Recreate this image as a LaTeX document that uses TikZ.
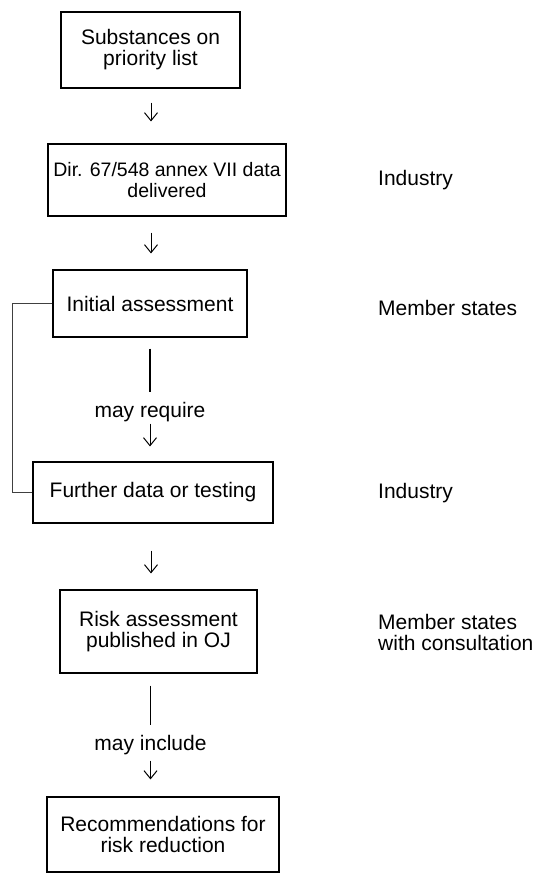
\documentclass[tikz,border=0pt]{standalone}
\usepackage{fontspec}
\setmainfont{Liberation Sans}
\usetikzlibrary{arrows.meta,positioning}

\begin{document}
\begin{tikzpicture}[x=1pt,y=-1pt,>={Straight Barb[length=8pt,width=13pt]},
  every node/.style={font=\fontsize{21}{21}\selectfont,inner sep=0pt},
  stage/.style={draw,line width=1.1pt,align=center,rectangle},
  who/.style={anchor=west,align=left},
  flow/.style={->,line width=1pt}]
\useasboundingbox (0,0) rectangle (546,876);
\coordinate (axis) at (151,0);
\coordinate (brk) at (12,0);

\node[stage,minimum width=179pt,minimum height=76pt] (subst) at (150.5,50) {Substances on\\priority list};
\node[stage,minimum width=238pt,minimum height=72pt,font=\fontsize{19.5}{21}\selectfont] (annex) at (167,180) {Dir. 67/548 annex VII data\\delivered};
\node[stage,minimum width=194pt,minimum height=67pt] (initial) at (150,303.5) {Initial assessment};
\node[stage,minimum width=240pt,minimum height=61pt] (further) at (153,492.5) {Further data or testing};
\node[stage,minimum width=197pt,minimum height=83pt] (risk) at (158.5,631.5) {Risk assessment\\published in OJ};
\node[stage,minimum width=232pt,minimum height=75pt] (recom) at (163,834.5) {Recommendations for\\risk reduction};

\node[anchor=base] (req) at (150,417) {may require};
\node[anchor=base] (inc) at (150.5,750) {may include};

\node[who] (ind1) at (378,180) {Industry};
\node[who] (ms1) at (378,308) {Member states};
\node[who] (ind2) at (378,493) {Industry};
\node[who] (ms2) at (378,632) {Member states\\with consultation};

\draw[flow,shorten <=14pt,shorten >=22pt] (subst.south -| axis) -- (annex.north -| axis);
\draw[flow,shorten <=16pt,shorten >=16pt] (annex.south -| axis) -- (initial.north -| axis);
\draw[line width=1.5pt,shorten <=11pt,shorten >=10pt] (initial.south) -- (req.north -| initial.south);
\draw[flow,shorten <=2pt,shorten >=15pt] (req.south) -- (further.north -| req.south);
\draw[flow,shorten <=27pt,shorten >=16pt] (further.south -| axis) -- (risk.north -| axis);
\draw[line width=0.9pt,shorten <=12pt,shorten >=10pt] (risk.south -| inc.north) -- (inc.north);
\draw[flow,shorten <=6pt,shorten >=17pt] (inc.south) -- (recom.north -| inc.south);
\draw[line width=0.7pt,black!75] (initial.west) -- (initial.west -| brk) |- (further.west);

\end{tikzpicture}
\end{document}
